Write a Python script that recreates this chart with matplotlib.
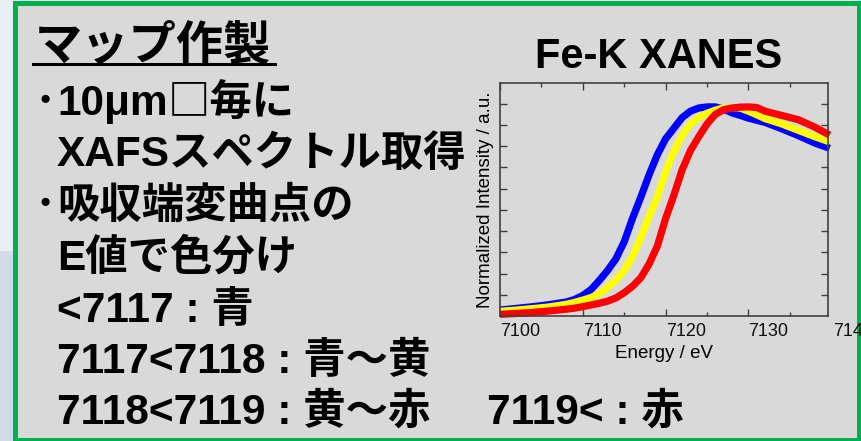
import matplotlib
matplotlib.use("Agg")
import matplotlib.pyplot as plt
from matplotlib.patches import Rectangle
from matplotlib.lines import Line2D
import matplotlib.transforms as mtransforms

# ---- spectra: Fe-K edge XANES, normalized intensity ----
energy = [7100, 7102, 7104, 7106, 7108, 7109, 7110, 7111, 7112, 7113, 7114,
          7115, 7116, 7117, 7118, 7119, 7120, 7121, 7122, 7123, 7124, 7125,
          7126, 7127, 7128, 7129, 7130, 7131, 7132, 7134, 7136, 7138, 7139.8]

blue = [0.028, 0.036, 0.044, 0.054, 0.066, 0.078, 0.097, 0.125, 0.168, 0.215,
        0.27, 0.35, 0.46, 0.56, 0.665, 0.76, 0.835, 0.885, 0.935, 0.965, 0.98,
        0.985, 0.985, 0.975, 0.957, 0.945, 0.932, 0.922, 0.912, 0.882, 0.85,
        0.815, 0.79]

yellow = [0.022, 0.028, 0.035, 0.043, 0.055, 0.064, 0.075, 0.087, 0.105, 0.135,
          0.17, 0.215, 0.28, 0.37, 0.47, 0.56, 0.68, 0.775, 0.85, 0.905, 0.935,
          0.955, 0.97, 0.98, 0.982, 0.98, 0.965, 0.948, 0.93, 0.905, 0.875,
          0.845, 0.82]

red = [0.008, 0.012, 0.017, 0.024, 0.032, 0.037, 0.044, 0.052, 0.06, 0.07,
       0.085, 0.11, 0.14, 0.18, 0.245, 0.33, 0.46, 0.57, 0.69, 0.78, 0.845,
       0.905, 0.95, 0.972, 0.98, 0.984, 0.985, 0.982, 0.965, 0.945, 0.925,
       0.89, 0.852]

x_ticks = [7100, 7110, 7120, 7130]
x_extra_label = "7140"

title = "Fe-K XANES"
x_label = "Energy / eV"
y_label = "Normalized Intensity / a.u."

heading = "マップ作製"
bullet = "･"
# each line: (has bullet, list of text runs); runs alternate Latin / Japanese fonts
body_lines = [
    (True, [("10μm", "latin"), ("□毎に", "jp")]),
    (False, [("XAFSスペクトル取得", "mixed")]),
    (True, [("吸収端変曲点の", "mixed")]),
    (False, [("E値で色分け", "mixed")]),
    (False, [("<7117 : 青", "mixed")]),
    (False, [("7117<7118 : 青～黄", "mixed")]),
    (False, [("7118<7119 : 黄～赤", "mixed")]),
]
tail_text = "7119< : 赤"

W, H = 861, 441
fig = plt.figure(figsize=(W / 100, H / 100), dpi=100)
fig.patch.set_facecolor("#e9edf5")
renderer = fig.canvas.get_renderer()

def fx(x):
    return x / W

def fy(y):
    return 1 - y / H

families = {
    "latin": ["Liberation Sans"],
    "jp": ["Noto Sans CJK JP", "DejaVu Sans"],
    "mixed": ["Liberation Sans", "Noto Sans CJK JP", "DejaVu Sans"],
}

def draw_runs(x, base, runs, size):
    for text, fam in runs:
        t = fig.text(fx(x), fy(base), text, fontsize=size, fontweight="bold",
                     family=families[fam], ha="left", va="baseline", zorder=3)
        x += t.get_window_extent(renderer=renderer).width

# slide background strip and framed panel
fig.add_artist(Rectangle((0, 0), fx(14), 1 - 251 / H, transform=fig.transFigure,
                         facecolor="#d3dae8", edgecolor="none", zorder=0))
fig.add_artist(Rectangle((fx(14.5), fy(439.5)), fx(858.5 - 14.5), (439.5 - 2.5) / H,
                         transform=fig.transFigure, facecolor="#d9d9d9",
                         edgecolor="#00b050", linewidth=3.6, zorder=1))

# heading with underline
fig.text(fx(35), fy(60), heading, fontsize=34, fontweight="bold",
         family=families["mixed"], ha="left", va="baseline", zorder=3)
fig.add_artist(Line2D([fx(33), fx(275)], [fy(64), fy(64)], transform=fig.transFigure,
                      color="black", linewidth=2.2, zorder=3))

baselines = [115, 166, 218, 270, 322, 373, 424]
for (has_bullet, runs), base in zip(body_lines, baselines):
    if has_bullet:
        fig.text(fx(45), fy(base), bullet, fontsize=30.5, fontweight="bold",
                 family=families["jp"], ha="center", va="baseline", zorder=3)
    draw_runs(57, base, runs, 30.5)
fig.text(fx(487), fy(424), tail_text, fontsize=30.5, fontweight="bold",
         family=families["mixed"], ha="left", va="baseline", zorder=3)

# spectrum panel
ax = fig.add_axes([fx(500), fy(316), fx(828 - 500), (316 - 82.5) / H], zorder=4)
ax.set_facecolor("none")
for series, color in ((blue, "#0000ff"), (yellow, "#ffff00"), (red, "#ff0000")):
    ax.plot(energy, series, color=color, linewidth=5.2, solid_capstyle="butt",
            solid_joinstyle="round", clip_on=False)

ax.set_xlim(7100, 7139.6)
ax.set_ylim(0, 1.1)
ax.set_xticks(x_ticks)
ax.set_xticks([7105, 7115, 7125, 7135], minor=True)
ax.set_yticks([i / 10 for i in range(1, 11)])
ax.set_yticklabels([])
ax.tick_params(axis="both", which="major", direction="in", top=True, right=True,
               length=5, width=1.0, color="#404040")
ax.tick_params(axis="x", which="minor", direction="in", top=True, bottom=True,
               length=3, width=1.0, color="#404040")
ax.tick_params(axis="x", which="major", labelsize=13, pad=5, labelcolor="#111111")
for lbl in ax.get_xticklabels():
    lbl.set_ha("left")
    lbl.set_family("Liberation Sans")
for sp in ax.spines.values():
    sp.set_color("#404040")
    sp.set_linewidth(1.2)

trans = mtransforms.blended_transform_factory(ax.transData, fig.transFigure)
ax.text(7140.2, fy(323), x_extra_label, transform=trans, fontsize=13,
        family="Liberation Sans", color="#111111", ha="left", va="top", clip_on=False)

fig.text(fx(664), fy(358), x_label, fontsize=13.5, family="Liberation Sans",
         ha="center", va="baseline", zorder=5)
fig.text(fx(486), fy(200), y_label, fontsize=13.5, family="Liberation Sans",
         ha="center", va="center", rotation=90, zorder=5)
fig.text(fx(659), fy(68), title, fontsize=30, fontweight="bold",
         family="Liberation Sans", ha="center", va="baseline", zorder=5)

fig.savefig("out.png", dpi=100)
